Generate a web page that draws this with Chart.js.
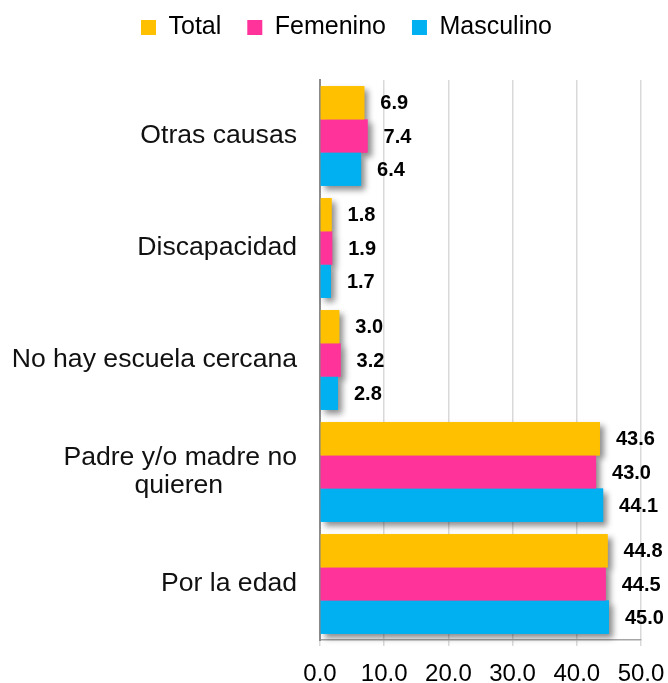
<!DOCTYPE html>
<html>
<head>
<meta charset="utf-8">
<script src="https://cdn.jsdelivr.net/npm/chart.js@4"></script>
<style>
  body { margin: 0; background: #fff; }
  #wrap { width: 668px; height: 683px; }
</style>
</head>
<body>
<div id="wrap"><canvas id="causasChart"></canvas></div>
<script>
// Categories (top to bottom) and series values
const categorias = [
    'Otras causas',
    'Discapacidad',
    'No hay escuela cercana',
    ['Padre y/o madre no', 'quieren' + ' '.repeat(10)],
    'Por la edad'
];
const total = [6.9, 1.8, 3.0, 43.6, 44.8];
const femenino = [7.4, 1.9, 3.2, 43.0, 44.5];
const masculino = [6.4, 1.7, 2.8, 44.1, 45.0];
const xTicks = [0, 10, 20, 30, 40, 50];

const FONT = "'Liberation Sans', Arial, sans-serif";

// legend: extra space below it, and nudged into place
const legendTweak = {
    id: 'legendTweak',
    afterInit(chart) {
        const lg = chart.legend;
        const fit = lg.fit;
        const draw = lg.draw;
        lg.fit = function () {
            fit.call(this);
            this.height += 19;
        };
        lg.draw = function () {
            const c = this.ctx;
            c.save();
            c.translate(26, -11);
            draw.call(this);
            c.restore();
        };
    }
};

// soft drop shadow under every bar
const barShadow = {
    id: 'barShadow',
    beforeDatasetsDraw(chart) {
        const ctx = chart.ctx;
        ctx.save();
        ctx.shadowColor = 'rgba(0, 0, 0, 0.45)';
        ctx.shadowBlur = 6;
        ctx.shadowOffsetX = 4;
        ctx.shadowOffsetY = 4;
        chart.data.datasets.forEach((ds, i) => {
            const meta = chart.getDatasetMeta(i);
            ctx.fillStyle = ds.backgroundColor;
            meta.data.forEach(bar => {
                const top = bar.y - bar.height / 2;
                ctx.fillRect(bar.base, top, bar.x - bar.base, bar.height);
            });
        });
        ctx.restore();
    }
};

// value labels to the right of each bar
const valueLabels = {
    id: 'valueLabels',
    afterDatasetsDraw(chart) {
        const ctx = chart.ctx;
        ctx.save();
        ctx.font = 'bold 20px ' + FONT;
        ctx.fillStyle = '#000';
        ctx.textAlign = 'left';
        ctx.textBaseline = 'middle';
        chart.data.datasets.forEach((ds, i) => {
            chart.getDatasetMeta(i).data.forEach((bar, j) => {
                ctx.fillText(ds.data[j].toFixed(1), bar.x + 16, bar.y + 1);
            });
        });
        ctx.restore();
    }
};

const ctx = document.getElementById('causasChart').getContext('2d');
new Chart(ctx, {
    type: 'bar',
    data: {
        labels: categorias,
        datasets: [
            { label: 'Total', data: total, backgroundColor: '#FFC000' },
            { label: 'Femenino', data: femenino, backgroundColor: '#FF3399' },
            { label: 'Masculino', data: masculino, backgroundColor: '#00B0F0' }
        ]
    },
    options: {
        indexAxis: 'y',
        responsive: true,
        maintainAspectRatio: false,
        animation: false,
        categoryPercentage: 0.89,
        barPercentage: 1.0,
        layout: { padding: { top: 0, right: 27, bottom: 0, left: 0 } },
        scales: {
            x: {
                min: 0,
                max: 50,
                afterFit: scale => {
                    scale.height = 43;
                    scale.paddingLeft = 0;
                    scale.paddingRight = 0;
                },
                afterBuildTicks: scale => {
                    scale.ticks = xTicks.map(v => ({ value: v }));
                },
                grid: {
                    color: '#d9d9d9',
                    lineWidth: 1.5,
                    tickLength: 6
                },
                border: { color: '#a6a6a6', width: 1.5 },
                ticks: {
                    padding: 14,
                    color: '#000',
                    font: { family: FONT, size: 24 },
                    callback: v => v.toFixed(1)
                }
            },
            y: {
                afterFit: scale => { scale.width = 320; },
                grid: { display: false, drawTicks: false },
                border: { color: '#8c8c8c', width: 2 },
                ticks: {
                    padding: 23,
                    color: '#111',
                    font: { family: FONT, size: 26.6, lineHeight: 1.05 }
                }
            }
        },
        plugins: {
            legend: {
                position: 'top',
                labels: {
                    boxWidth: 15,
                    boxHeight: 15,
                    padding: 26,
                    color: '#000',
                    font: { family: FONT, size: 25 }
                }
            },
            tooltip: { enabled: false }
        }
    },
    plugins: [legendTweak, barShadow, valueLabels]
});
</script>
</body>
</html>
